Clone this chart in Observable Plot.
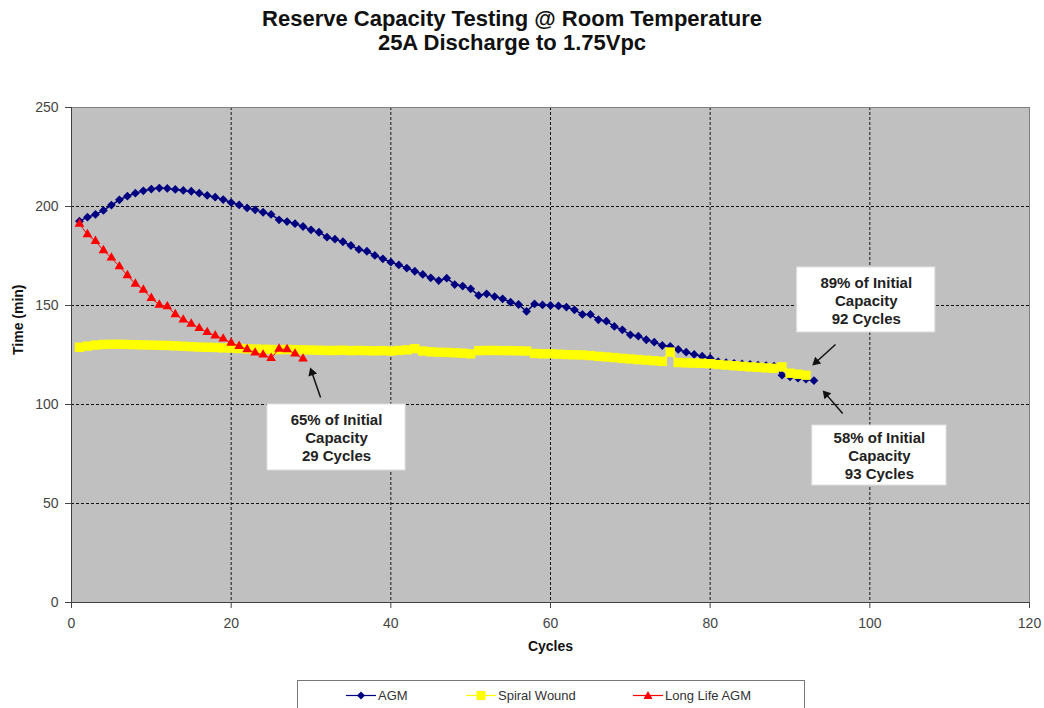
<!DOCTYPE html>
<html><head><meta charset="utf-8">
<script src="https://cdn.jsdelivr.net/npm/d3@7"></script>
<script src="https://cdn.jsdelivr.net/npm/@observablehq/plot@0.6"></script>
<style>
body{margin:0;background:#fff;font-family:"Liberation Sans",Arial,sans-serif;}
#title{height:70px;box-sizing:border-box;padding-top:7px;padding-right:20px;text-align:center;font-weight:bold;font-size:22px;line-height:24px;color:#111;}
#chart svg{display:block;}
#legend{position:relative;margin-left:297px;width:508px;height:30px;border:1px solid #777;box-sizing:border-box;background:#fff;font-size:13px;color:#333;}
#legend .it{position:absolute;top:6px;display:flex;align-items:center;height:16px;}
#legend svg{display:block;margin-right:2px;}
</style></head><body>
<div id="title">Reserve Capacity Testing @ Room Temperature<br>25A Discharge to 1.75Vpc</div>
<div id="chart"></div>
<div id="legend"></div>
<script>
const seriesNames = ["AGM", "Spiral Wound", "Long Life AGM"];
const seriesColors = ["#000080", "#ffff00", "#ff0000"];
const xTicks = [0, 20, 40, 60, 80, 100, 120];
const yTicks = [0, 50, 100, 150, 200, 250];

const agmValues = [
192.6, 194.6, 196.0, 198.0, 200.7, 203.4, 205.2, 206.7, 207.9, 208.8,
209.3, 209.1, 208.6, 208.1, 207.7, 206.7, 205.6, 204.7, 203.5, 202.0,
200.8, 199.3, 198.3, 197.1, 196.0, 193.3, 192.4, 191.3, 189.9, 188.2,
187.0, 184.5, 183.5, 182.2, 180.3, 178.3, 177.4, 175.3, 173.6, 171.9,
170.5, 168.9, 167.3, 165.7, 164.0, 162.6, 163.8, 160.6, 159.8, 158.4,
155.1, 155.9, 154.5, 153.4, 151.7, 150.5, 147.0, 150.8, 150.3, 150.0,
149.8, 149.2, 147.8, 145.5, 145.5, 142.8, 142.1, 139.4, 137.7, 135.2,
134.5, 132.7, 131.5, 129.8, 129.3, 127.8, 126.4, 125.3, 124.4, 123.4,
121.6, 121.1, 120.8, 120.5, 120.2, 119.9, 119.6, 119.4, 114.8, 114.0,
113.3, 112.8, 112.1];

const spiralValues = [
128.9, 129.5, 130.0, 130.3, 130.4, 130.4, 130.3, 130.2, 130.1, 130.0,
129.9, 129.8, 129.6, 129.4, 129.2, 129.0, 128.9, 128.8, 128.6, 128.5,
128.3, 128.1, 128.0, 127.9, 127.8, 127.7, 127.8, 127.7, 127.6, 127.5,
127.4, 127.3, 127.3, 127.4, 127.2, 127.3, 127.2, 127.1, 127.2, 127.0,
127.3, 127.6, 128.2, 127.0, 126.6, 126.4, 126.3, 126.1, 125.9, 125.6,
127.2, 127.3, 127.3, 127.2, 127.2, 127.1, 127.0, 125.8, 125.6, 125.6,
125.4, 125.2, 125.1, 125.0, 124.7, 124.3, 124.0, 123.7, 123.3, 123.0,
122.7, 122.4, 122.1, 121.8, 126.5, 121.2, 121.0, 120.9, 120.8, 120.6,
120.2, 119.9, 119.6, 119.3, 119.0, 118.8, 118.5, 118.3, 119.0, 115.8,
115.3, 114.8];

const longLifeValues = [
191.2, 185.9, 182.5, 177.8, 174.1, 169.7, 165.2, 160.9, 157.9, 153.7,
150.3, 149.5, 145.5, 142.8, 140.7, 138.5, 136.5, 134.8, 133.2, 131.1,
129.5, 127.8, 126.1, 125.1, 123.4, 128.1, 127.8, 125.6, 123.1];

const noteLabels = ["65% of Initial\nCapacity\n29 Cycles", "89% of Initial\nCapacity\n92 Cycles", "58% of Initial\nCapacity\n93 Cycles"];
const noteBoxX1 = [24.55, 90.9, 92.8];
const noteBoxX2 = [41.84, 108.2, 109.6];
const noteBoxY1 = [66.7, 136.4, 59.1];
const noteBoxY2 = [100, 169.2, 89.4];
const noteArrowX1 = [31.2, 95.7, 96.6];
const noteArrowY1 = [103.5, 130.3, 95.5];
const noteArrowX2 = [29.9, 92.8, 94.1];
const noteArrowY2 = [118.7, 119.7, 107.1];

const W = 1044, H = 610, mT = 37, mL = 71, mR = 15, mB = 78;
const xDomain = [0, 120], yDomain = [0, 250];
const kx = (W - mL - mR) / (xDomain[1] - xDomain[0]);
const ky = (H - mT - mB) / (yDomain[1] - yDomain[0]);

const toRows = vals => vals.map((v, i) => ({cycle: i + 1, value: v}));
const agm = toRows(agmValues), spiral = toRows(spiralValues), longLife = toRows(longLifeValues);
const headBack = 5.2; // px from tip to triangle centroid
const notes = noteLabels.map((t, i) => {
  const sx = (noteArrowX2[i] - noteArrowX1[i]) * kx;
  const sy = -(noteArrowY2[i] - noteArrowY1[i]) * ky;
  const len = Math.hypot(sx, sy);
  const ux = sx / len, uy = sy / len;
  return {
    t, bx1: noteBoxX1[i], bx2: noteBoxX2[i], by1: noteBoxY1[i], by2: noteBoxY2[i],
    tx: (noteBoxX1[i] + noteBoxX2[i]) / 2, ty: (noteBoxY1[i] + noteBoxY2[i]) / 2,
    ax1: noteArrowX1[i], ay1: noteArrowY1[i], ax2: noteArrowX2[i], ay2: noteArrowY2[i],
    hx: noteArrowX2[i] - ux * headBack / kx, hy: noteArrowY2[i] + uy * headBack / ky,
    rot: Math.atan2(sx, -sy) * 180 / Math.PI
  };
});

const chart = Plot.plot({
  width: W, height: H,
  marginTop: mT, marginLeft: mL, marginRight: mR, marginBottom: mB,
  style: {fontFamily: "'Liberation Sans', Arial, sans-serif", background: "#fff", overflow: "visible"},
  x: {domain: xDomain},
  y: {domain: yDomain},
  marks: [
    Plot.frame({fill: "#c0c0c0", stroke: null}),
    Plot.gridX(xTicks.slice(1, -1), {stroke: "#000", strokeOpacity: 0.9, strokeDasharray: "3,2"}),
    Plot.gridY(yTicks.slice(1, -1), {stroke: "#000", strokeOpacity: 0.9, strokeDasharray: "3,2"}),
    Plot.frame({stroke: "#808080"}),
    Plot.ruleX([0], {stroke: "#404040"}),
    Plot.ruleY([0], {stroke: "#404040"}),
    Plot.axisX({ticks: xTicks, tickSize: 6, tickPadding: 10, fontSize: 14, color: "#444", label: null}),
    Plot.axisY({ticks: yTicks, tickSize: 6, tickPadding: 7, fontSize: 14, color: "#444", label: null}),
    Plot.text(["Cycles"], {frameAnchor: "bottom", dy: 48, fontSize: 14, fontWeight: "bold", fill: "#111"}),
    Plot.text(["Time (min)"], {frameAnchor: "left", dx: -53, rotate: -90, fontSize: 14, fontWeight: "bold", fill: "#111"}),
    Plot.line(agm, {x: "cycle", y: "value", stroke: seriesColors[0], strokeWidth: 1.5}),
    Plot.dot(agm, {x: "cycle", y: "value", symbol: "square", rotate: 45, r: 3.5, fill: seriesColors[0], stroke: null}),
    Plot.line(spiral, {x: "cycle", y: "value", stroke: seriesColors[1], strokeWidth: 2}),
    Plot.dot(spiral, {x: "cycle", y: "value", symbol: "square", r: 5.3, fill: seriesColors[1], stroke: null}),
    Plot.line(longLife, {x: "cycle", y: "value", stroke: seriesColors[2], strokeWidth: 1}),
    Plot.dot(longLife, {x: "cycle", y: "value", symbol: "triangle", r: 3.6, fill: seriesColors[2], stroke: null}),
    Plot.rect(notes, {x1: "bx1", x2: "bx2", y1: "by1", y2: "by2", fill: "#fff", stroke: "#e0e0e0"}),
    Plot.text(notes, {x: "tx", y: "ty", text: "t", fontSize: 15, fontWeight: "bold", lineHeight: 1.2, fill: "#222"}),
    Plot.link(notes, {x1: "ax1", y1: "ay1", x2: "hx", y2: "hy", stroke: "#111", strokeWidth: 1.5}),
    Plot.dot(notes, {x: "hx", y: "hy", symbol: "triangle", rotate: "rot", r: 3.4, fill: "#111", stroke: null})
  ]
});
document.getElementById("chart").append(chart);

// legend
const legend = document.getElementById("legend");
const legendLeft = [48, 168, 335];
const legendSymbols = ["diamond", "square", "triangle"];
seriesNames.forEach((name, i) => {
  const it = document.createElement("div");
  it.className = "it";
  it.style.left = legendLeft[i] + "px";
  const c = seriesColors[i];
  let marker;
  if (legendSymbols[i] === "diamond") marker = `<path d="M15,2.5 L19,6.5 L15,10.5 L11,6.5Z" fill="${c}"/>`;
  else if (legendSymbols[i] === "square") marker = `<rect x="10.5" y="2" width="9" height="9" fill="${c}"/>`;
  else marker = `<path d="M15,2 L19.5,10 L10.5,10Z" fill="${c}"/>`;
  it.innerHTML = `<svg width="30" height="13"><line x1="0" x2="30" y1="6.5" y2="6.5" stroke="${c}" stroke-width="1.2"/>${marker}</svg><span>${name}</span>`;
  legend.append(it);
});
</script>
</body></html>
